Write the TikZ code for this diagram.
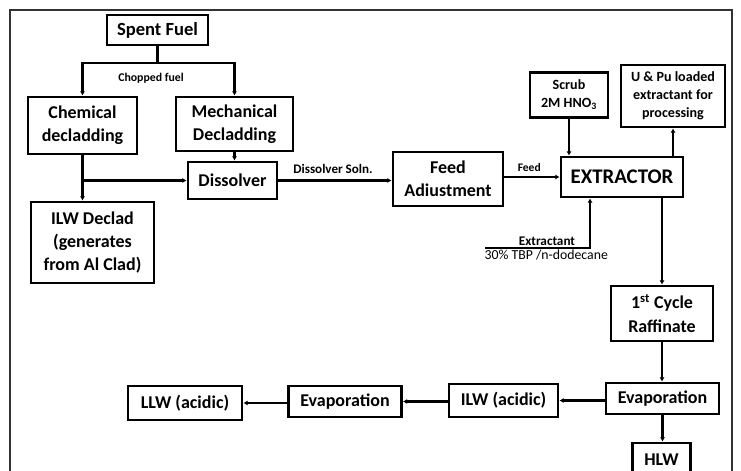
\documentclass[tikz,border=0pt]{standalone}
\usepackage{fontspec}
\setmainfont{Carlito}
\usetikzlibrary{arrows.meta}
\begin{document}
\begin{tikzpicture}[x=0.025cm, y=-0.025cm,
    box/.style={draw, line width=1.9pt, align=center, inner sep=0pt, font=\fontsize{12.8}{16.4}\selectfont\bfseries},
    smallbox/.style={box, font=\fontsize{10}{12.8}\selectfont\bfseries},
    tag/.style={font=\fontsize{8}{9}\selectfont\bfseries, inner sep=1pt},
    line/.style={line width=1.9pt},
    arrow/.style={line width=1.9pt, -{Latex[length=3pt,width=3.5pt]}}]

    \useasboundingbox (0,0) rectangle (741,471);

    % Outer frame (bottom edge lies below the page)
    \draw[line width=0.9pt, black!80] (10,490) -- (10,10) -- (732,10) -- (732,490);

    % Boxes of the left branch
    \node[box, minimum width=101*0.025cm, minimum height=30*0.025cm, font=\fontsize{13.2}{16}\selectfont\bfseries] (spent) at (157.5,30) {Spent Fuel};
    \node[box, minimum width=109*0.025cm, minimum height=57*0.025cm] (chem) at (82.5,125.5) {Chemical\\decladding};
    \node[box, minimum width=117*0.025cm, minimum height=54*0.025cm] (mech) at (234.5,124) {Mechanical\\Decladding};
    \node[box, minimum width=89*0.025cm, minimum height=37*0.025cm] (diss) at (232.5,180.5) {Dissolver};
    \node[box, minimum width=123*0.025cm, minimum height=81*0.025cm] (ilwdeclad) at (92.5,242.5) {ILW Declad\\(generates\\from Al Clad)};

    % Feed adjustment and extractor
    \node[box, minimum width=110*0.025cm, minimum height=54*0.025cm] (feed) at (448,179) {Feed\\Adiustment};
    \node[box, minimum width=122*0.025cm, minimum height=40*0.025cm, font=\fontsize{14.8}{17}\selectfont\bfseries] (extr) at (622,177) {EXTRACTOR};
    \node[smallbox, minimum width=78*0.025cm, minimum height=45*0.025cm] (scrub) at (569,95) {Scrub\\2M HNO\textsubscript{3}};
    \node[smallbox, minimum width=104*0.025cm, minimum height=62*0.025cm] (upu) at (673,96) {U \& Pu loaded\\extractant for\\processing};

    % Raffinate treatment
    \node[box, minimum width=102*0.025cm, minimum height=55*0.025cm] (raff) at (662,313.5) {1\textsuperscript{st} Cycle\\Raffinate};
    \node[box, minimum width=113*0.025cm, minimum height=31*0.025cm] (evapone) at (662.5,398.5) {Evaporation};
    \node[box, minimum width=109*0.025cm, minimum height=33*0.025cm] (ilwacid) at (503.5,400.5) {ILW (acidic)};
    \node[box, minimum width=113*0.025cm, minimum height=31*0.025cm] (evaptwo) at (345,401.5) {Evaporation};
    \node[box, minimum width=114*0.025cm, minimum height=34*0.025cm] (llw) at (185,403) {LLW (acidic)};
    \node[box, minimum width=58*0.025cm, minimum height=34*0.025cm] (hlw) at (661.5,460) {HLW};

    % Chopped fuel split
    \coordinate (split) at (157.5,63);
    \draw[line] (spent.south) -- (split);
    \draw[arrow] (split) -| (chem.north);
    \draw[arrow] (split) -| (mech.north);
    \node[tag, font=\fontsize{8.4}{9}\selectfont\bfseries] (chopped) at (151,78) {Chopped fuel};

    % Into the dissolver
    \draw[arrow] (mech.south) -- (mech.south |- diss.north);
    \coordinate (join) at (chem.south |- diss.west);
    \draw[line] (chem.south) -- (join);
    \draw[arrow] (join) -- (diss.west);
    \draw[arrow] (join) -- (join |- ilwdeclad.north);

    % Dissolver to extractor
    \draw[arrow] (diss.east) -- (diss.east -| feed.west);
    \node[tag, font=\fontsize{9.3}{10}\selectfont\bfseries] (solnlabel) at (333,169) {Dissolver Soln.};
    \draw[arrow] (feed.east |- extr.west) -- (extr.west) node[tag, pos=0.45, above=2pt, font=\fontsize{8.2}{9}\selectfont\bfseries] (feedlabel) {Feed};
    \draw[arrow] (scrub.south) -- (scrub.south |- extr.north);
    \draw[arrow] (extr.north -| upu.south) -- (upu.south);

    % Extractant inlet
    \coordinate (xfree) at (485,248);
    \coordinate (xbend) at (590,248);
    \draw[arrow] (xfree) -- (xbend) -- (xbend |- extr.south);
    \node[tag, font=\fontsize{9.4}{10}\selectfont\bfseries, anchor=south] (xlabel) at (547,247) {Extractant};
    \node[tag, font=\fontsize{9.8}{10}\selectfont, anchor=north west] (tbplabel) at (483,248) {30\% TBP /n-dodecane};

    % Raffinate line
    \draw[arrow] (extr.south -| raff.north) -- (raff.north);
    \draw[arrow] (raff.south) -- (raff.south |- evapone.north);
    \draw[arrow] (ilwacid.east -| evapone.west) -- (ilwacid.east);
    \draw[arrow] (evaptwo.east -| ilwacid.west) -- (evaptwo.east);
    \draw[arrow] (llw.east -| evaptwo.west) -- (llw.east);
    \draw[arrow] (evapone.south) -- (evapone.south |- hlw.north);

\end{tikzpicture}
\end{document}
